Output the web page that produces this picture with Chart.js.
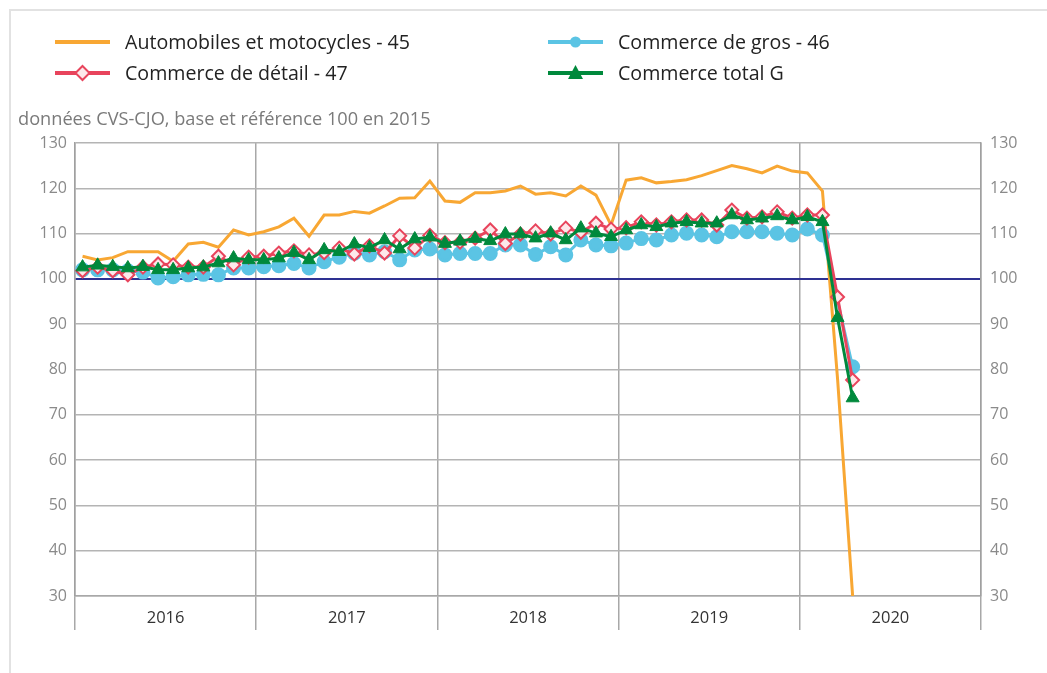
<!DOCTYPE html>
<html lang="fr">
<head>
<meta charset="utf-8">
<script src="https://cdn.jsdelivr.net/npm/chart.js@4"></script>
<style>
  html, body { margin: 0; padding: 0; background: #fff; }
  body { width: 1047px; height: 673px; position: relative; overflow: hidden; font-family: "Open Sans", sans-serif; }
  #frame { position: absolute; left: 9px; top: 9px; width: 1100px; height: 700px; border: 2px solid #e2e2e2; box-sizing: border-box; }
  #chart-wrap { position: absolute; left: 0; top: 0; width: 1047px; height: 673px; }
  .leg { position: absolute; font-size: 19.6px; color: #222; line-height: 22px; white-space: nowrap; }
  .leg svg { position: absolute; left: 0; top: 1px; }
  .leg span { position: absolute; top: 0; }
  #unit { position: absolute; left: 18px; top: 106px; font-size: 18.2px; color: #7a7a7a; white-space: nowrap; }
</style>
</head>
<body>
<div id="frame"></div>
<div id="chart-wrap"><canvas id="chart" width="1047" height="673"></canvas></div>

<div class="leg" style="left:55px; top:31px;">
  <svg width="60" height="20"><line x1="0" y1="10" x2="55" y2="10" stroke="#f8a733" stroke-width="4"/></svg>
  <span style="left:70px">Automobiles et motocycles - 45</span>
</div>
<div class="leg" style="left:548px; top:31px;">
  <svg width="60" height="20"><line x1="0" y1="10" x2="55" y2="10" stroke="#5bc4e4" stroke-width="4"/><circle cx="27.5" cy="10" r="5.5" fill="#5bc4e4"/></svg>
  <span style="left:70px">Commerce de gros - 46</span>
</div>
<div class="leg" style="left:55px; top:62px;">
  <svg width="60" height="20"><line x1="0" y1="10" x2="55" y2="10" stroke="#e8445c" stroke-width="4"/><polygon points="27.5,3 34.5,10 27.5,17 20.5,10" fill="#fde8ea" stroke="#e8445c" stroke-width="2"/></svg>
  <span style="left:70px">Commerce de détail - 47</span>
</div>
<div class="leg" style="left:548px; top:62px;">
  <svg width="60" height="20"><line x1="0" y1="10" x2="55" y2="10" stroke="#00893c" stroke-width="4"/><polygon points="27.5,2 35,16 20,16" fill="#00893c"/></svg>
  <span style="left:70px">Commerce total G</span>
</div>
<div id="unit">données CVS-CJO, base et référence 100 en 2015</div>

<script>
// Monthly indices, January 2016 to April 2020
const years = ['2016', '2017', '2018', '2019', '2020'];

const autoMoto = [
  105.0, 104.2, 104.7, 106.0, 106.0, 106.0, 103.9, 107.7, 108.1, 107.0, 110.8, 109.7,
  110.4, 111.5, 113.4, 109.4, 114.1, 114.1, 114.9, 114.5, 116.1, 117.8, 117.9, 121.6,
  117.2, 116.9, 119.0, 119.0, 119.4, 120.5, 118.7, 119.0, 118.3, 120.5, 118.5, 111.9,
  121.8, 122.3, 121.2, 121.5, 121.9, 122.8, 123.9, 125.0, 124.3, 123.4, 124.9, 123.8,
  123.4, 119.4, 78.0, 30.0
];
// no marker shows for March 2020 in the source, the line runs straight through
const commerceGros = [
  102.0, 102.0, 102.0, 101.8, 101.5, 100.2, 100.5, 100.9, 101.0, 100.9, 102.4, 102.4,
  102.7, 102.9, 103.4, 102.4, 103.8, 104.8, 105.7, 105.3, 106.0, 104.2, 106.4, 106.6,
  105.3, 105.6, 105.6, 105.6, 107.5, 107.5, 105.4, 107.1, 105.3, 108.6, 107.5, 107.3,
  107.9, 108.9, 108.6, 109.7, 110.1, 109.7, 109.3, 110.4, 110.4, 110.4, 110.1, 109.7,
  111.0, 109.7, null, 80.6
];
const commerceDetail = [
  101.8, 102.6, 101.8, 100.9, 102.6, 103.3, 103.1, 102.6, 102.6, 105.0, 103.1, 104.8,
  105.0, 105.7, 106.2, 105.3, 105.8, 106.8, 105.5, 107.3, 105.7, 109.5, 106.8, 109.6,
  108.0, 108.1, 109.0, 110.8, 107.8, 109.9, 110.6, 109.9, 111.2, 110.3, 112.3, 111.0,
  111.3, 112.6, 111.9, 112.6, 113.0, 113.0, 111.9, 115.2, 113.4, 113.7, 114.8, 113.4,
  114.1, 114.1, 96.0, 77.7
];
const commerceTotal = [
  102.6, 103.0, 102.7, 102.4, 102.7, 102.0, 102.0, 102.4, 102.6, 103.5, 104.6, 104.2,
  104.2, 104.6, 105.8, 104.2, 106.4, 106.0, 107.7, 106.9, 108.6, 106.6, 108.8, 109.2,
  107.8, 108.3, 108.9, 108.4, 109.9, 109.9, 109.0, 110.1, 108.6, 111.2, 110.1, 109.3,
  110.8, 111.9, 111.5, 112.3, 112.6, 112.3, 112.3, 114.1, 113.0, 113.4, 113.9, 113.0,
  113.7, 112.6, 91.4, 73.7
];

const yTicks = [30, 40, 50, 60, 70, 80, 90, 100, 110, 120, 130];

// month i sits in the middle of its slot on a 0..60 month axis
function toPoints(values) {
  return values.map((v, i) => ({ x: i + 0.5, y: v }));
}

const yFont = { family: '"Open Sans", sans-serif', size: 16 };
const xFont = { family: '"Open Sans", sans-serif', size: 16.5 };

const yAxis = (position, width) => ({
  type: 'linear',
  position: position,
  min: yTicks[0],
  max: yTicks[yTicks.length - 1],
  afterBuildTicks: scale => { scale.ticks = yTicks.map(v => ({ value: v })); },
  afterFit: scale => { scale.width = width; },
  grid: {
    display: position === 'left',
    drawTicks: false,
    color: ctx => ctx.tick && ctx.tick.value === 100 ? '#2e3192' : '#b4b4b4',
    lineWidth: ctx => ctx.tick && ctx.tick.value === 100 ? 2 : 1.5,
  },
  border: { display: true, color: '#a0a0a0', width: 1.5 },
  ticks: { color: '#8a8a8a', font: yFont, padding: position === 'left' ? 8 : 9 },
});

new Chart(document.getElementById('chart'), {
  type: 'line',
  data: {
    datasets: [
      {
        label: 'Commerce total G',
        data: toPoints(commerceTotal),
        borderColor: '#00893c',
        backgroundColor: '#00893c',
        borderWidth: 3,
        pointStyle: 'triangle',
        pointRadius: 7.5,
        pointBorderWidth: 1,
        order: 1,
      },
      {
        label: 'Commerce de détail - 47',
        data: toPoints(commerceDetail),
        borderColor: '#e8445c',
        backgroundColor: '#fde8ea',
        borderWidth: 3,
        pointStyle: 'rectRot',
        pointRadius: 6.5,
        pointBorderWidth: 2,
        order: 2,
      },
      {
        label: 'Commerce de gros - 46',
        data: toPoints(commerceGros),
        borderColor: '#5bc4e4',
        backgroundColor: '#5bc4e4',
        borderWidth: 3,
        pointStyle: 'circle',
        pointRadius: 6,
        spanGaps: true,
        order: 3,
      },
      {
        label: 'Automobiles et motocycles - 45',
        data: toPoints(autoMoto),
        borderColor: '#f8a733',
        backgroundColor: '#f8a733',
        borderWidth: 3,
        pointRadius: 0,
        order: 4,
      },
    ]
  },
  options: {
    responsive: false,
    animation: false,
    layout: { padding: { top: 143, bottom: 37, left: 0, right: 0 } },
    plugins: {
      legend: { display: false },
      tooltip: { enabled: false },
    },
    scales: {
      x: {
        type: 'linear',
        min: 0,
        max: 60,
        afterBuildTicks: scale => {
          const t = [];
          for (let v = 0; v <= 60; v += 6) t.push({ value: v });
          scale.ticks = t;
        },
        afterFit: scale => { scale.height = 40; },
        grid: {
          color: ctx => ctx.tick && ctx.tick.value % 12 === 0 ? '#a8a8a8' : 'rgba(0,0,0,0)',
          lineWidth: 1.5,
          tickLength: 34,
        },
        border: { display: true, color: '#a8a8a8', width: 1.5 },
        ticks: {
          color: '#333',
          font: xFont,
          padding: -22,
          autoSkip: false,
          maxRotation: 0,
          callback: v => (v % 12 === 6 ? years[(v - 6) / 12] : ''),
        },
      },
      y: yAxis('left', 75),
      y1: yAxis('right', 66),
    },
  }
});
</script>
</body>
</html>
